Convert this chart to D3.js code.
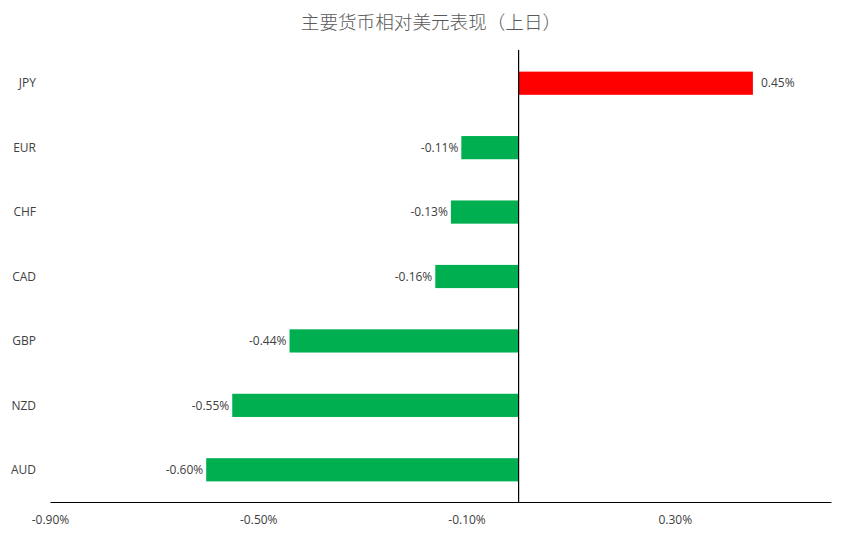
<!DOCTYPE html>
<html>
<head>
<meta charset="utf-8">
<script src="https://cdn.jsdelivr.net/npm/d3@7"></script>
<style>
  body { margin: 0; background: #fff; }
  svg text { font-family: "Open Sans", "Liberation Sans", sans-serif; }
</style>
</head>
<body>
<svg id="chart" width="864" height="538"></svg>
<script>
// data
var currencies = ['JPY', 'EUR', 'CHF', 'CAD', 'GBP', 'NZD', 'AUD']
var changes = [0.45, -0.11, -0.13, -0.16, -0.44, -0.55, -0.60]
var tickValues = [-0.9, -0.5, -0.1, 0.3]
var title = '主要货币相对美元表现（上日）'

var width = 864, height = 538
var margin = {top: 51, right: 33, bottom: 36, left: 50}

var svg = d3.select('#chart')

var x = d3.scaleLinear()
  .domain([-0.9, 0.6])
  .range([margin.left, width - margin.right])

var y = d3.scaleBand()
  .domain(currencies)
  .range([margin.top, height - margin.bottom])
  .paddingInner(0.64)
  .paddingOuter(0.32)

var fmt = function(d){ return d.toFixed(2) + '%' }

// title
svg.append('text')
  .attr('x', 431)
  .attr('y', 29)
  .attr('text-anchor', 'middle')
  .attr('fill', '#595959')
  .style('font-family', '"Noto Sans CJK SC", sans-serif')
  .style('font-weight', 300)
  .style('font-size', '18.6px')
  .text(title)

// bars
svg.selectAll('.bar')
  .data(currencies).enter().append('rect')
  .attr('class', 'bar')
  .attr('x', function(d, i){ return x(Math.min(0, changes[i])) })
  .attr('width', function(d, i){ return Math.abs(x(changes[i]) - x(0)) })
  .attr('y', function(d){ return y(d) })
  .attr('height', y.bandwidth())
  .attr('fill', function(d, i){ return changes[i] >= 0 ? '#FF0000' : '#00B050' })

// value labels
svg.selectAll('.lbl')
  .data(currencies).enter().append('text')
  .attr('class', 'lbl')
  .attr('x', function(d, i){ return changes[i] >= 0 ? x(changes[i]) + 8 : x(changes[i]) - 3 })
  .attr('y', function(d){ return y(d) + y.bandwidth() / 2 })
  .attr('dy', '0.35em')
  .attr('text-anchor', function(d, i){ return changes[i] >= 0 ? 'start' : 'end' })
  .attr('fill', '#404040')
  .style('font-size', '12px')
  .text(function(d, i){ return fmt(changes[i]) })

// category labels
svg.selectAll('.cat')
  .data(currencies).enter().append('text')
  .attr('class', 'cat')
  .attr('x', 36)
  .attr('y', function(d){ return y(d) + y.bandwidth() / 2 })
  .attr('dy', '0.35em')
  .attr('text-anchor', 'end')
  .attr('fill', '#404040')
  .style('font-size', '12px')
  .text(function(d){ return d })

// x axis
var xAxis = svg.append('g')
  .attr('transform', 'translate(0,' + (height - margin.bottom) + ')')
  .call(d3.axisBottom(x).tickValues(tickValues).tickSize(0).tickPadding(13).tickFormat(fmt))
xAxis.select('.domain').attr('stroke', '#000').attr('stroke-width', 1.2)
xAxis.selectAll('text')
  .attr('fill', '#404040')
  .style('font-size', '12px')
  .style('font-family', '"Open Sans", "Liberation Sans", sans-serif')

// zero line
svg.append('line')
  .attr('x1', x(0)).attr('x2', x(0))
  .attr('y1', margin.top - 1).attr('y2', height - margin.bottom)
  .attr('stroke', '#000')
  .attr('stroke-width', 1.2)
</script>
</body>
</html>
